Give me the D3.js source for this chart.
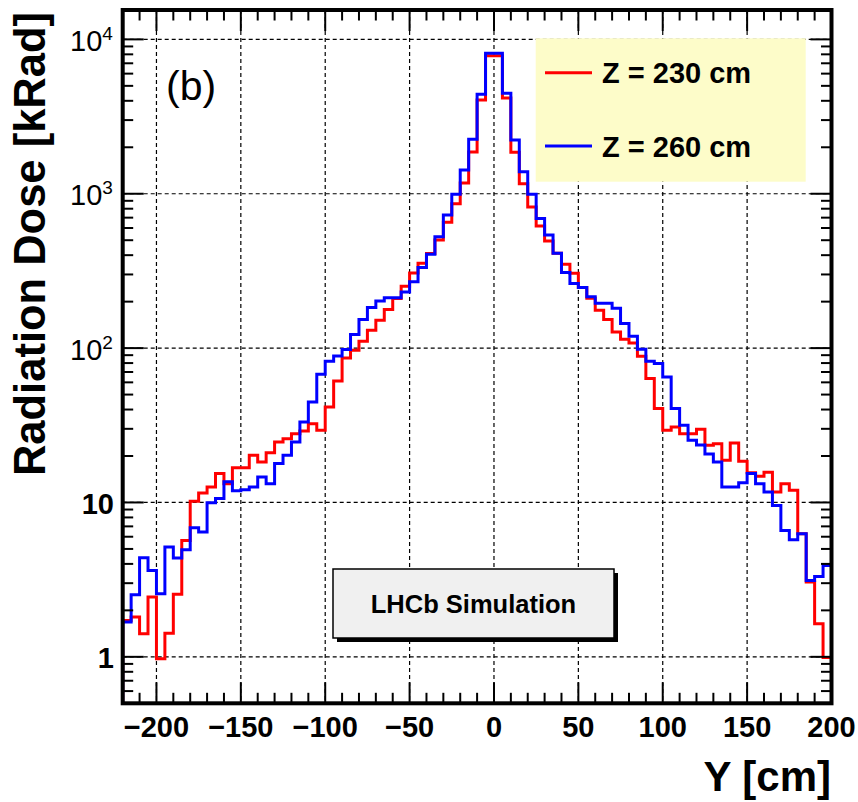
<!DOCTYPE html>
<html>
<head>
<meta charset="utf-8">
<script src="https://cdn.jsdelivr.net/npm/d3@7"></script>
<style>
  html, body { margin: 0; padding: 0; background: #fff; }
  svg { display: block; }
  text { font-family: "Liberation Sans", Arial, Helvetica, sans-serif; }
</style>
</head>
<body>
<svg id="chart" width="858" height="802"></svg>
<script>
// ---------------- data ----------------
const xDomain = [-220, 200];
const yDomain = [0.5, 15500];
const binWidth = 5;
const binEdges = d3.range(-220, 200 + binWidth, binWidth); // 85 edges -> 84 bins

const seriesNames = ["Z = 230 cm", "Z = 260 cm"];
const seriesColors = ["#ff0000", "#0000ff"];

// Z = 230 cm (red)
const doseZ230 = [
  1.72, 1.81, 1.41, 2.44, 0.97, 1.42, 2.54, 5.68, 10.2, 11.5,
  12.6, 15.4, 13.2, 16.8, 16.8, 20.2, 18.3, 21.0, 24.6, 25.9,
  27.9, 29.0, 32.4, 29.4, 41.6, 61.3, 86.4, 96.9, 110.8, 130.7,
  151.7, 178, 209.6, 252, 307, 354, 410, 501, 653, 860,
  1175, 1865, 4055, 7820, 7820, 4170, 1860, 1160, 822, 617,
  495, 411, 349, 305, 247, 210, 176, 153, 127, 114,
  108, 88.6, 63.5, 40.6, 29.4, 30.8, 27.9, 27.9, 29.8, 23.5,
  24.0, 18.8, 24.3, 18.5, 15.6, 14.8, 15.7, 11.7, 13.2, 12.0,
  6.28, 3.05, 1.64, 0.99
];
// Z = 260 cm (blue)
const doseZ260 = [
  1.68, 2.52, 4.39, 3.63, 2.56, 5.14, 4.36, 4.94, 6.87, 6.43,
  9.97, 10.6, 13.6, 11.9, 12.1, 12.6, 14.6, 13.2, 17.9, 20.2,
  24.6, 33.2, 44.8, 67.7, 82.2, 89.0, 97.9, 122.5, 153, 183,
  202, 212, 212, 231, 269, 333, 406, 526, 728, 991,
  1425, 2256, 4413, 8130, 8130, 4480, 2230, 1390, 991, 692,
  540, 411, 309, 262, 247, 215, 195, 195, 181, 144.5,
  119.4, 98.4, 82.2, 79.4, 65.0, 40.6, 31.6, 25.3, 23.6, 20.6,
  18.3, 12.6, 12.6, 13.4, 15.4, 13.2, 11.7, 9.57, 6.59, 5.74,
  6.28, 3.12, 3.32, 3.91
];

const xMajorTicks = [-200, -150, -100, -50, 0, 50, 100, 150, 200];
const xTickLabels = ["\u2212200", "\u2212150", "\u2212100", "\u221250", "0", "50", "100", "150", "200"];
const yMajorTicks = [1, 10, 100, 1000, 10000];
const yTickLabels = [["1", null], ["10", null], ["10", "2"], ["10", "3"], ["10", "4"]];

const xTitle = "Y [cm]";
const yTitle = "Radiation Dose [kRad]";
const panelLabel = "(b)";
const stampText = "LHCb Simulation";

// ---------------- layout ----------------
const svg = d3.select("#chart");
const P = { left: 122.7, right: 831.5, top: 10, bottom: 703.3 };

const x = d3.scaleLinear().domain(xDomain).range([P.left, P.right]);
const y = d3.scaleLog().domain(yDomain).range([P.bottom, P.top]);

svg.append("rect").attr("width", 858).attr("height", 802).attr("fill", "#fff");

svg.append("defs").append("clipPath").attr("id", "plotclip")
  .append("rect").attr("x", P.left).attr("y", P.top)
  .attr("width", P.right - P.left).attr("height", P.bottom - P.top);

// grid
const grid = svg.append("g").attr("stroke", "#000").attr("stroke-width", 1.2)
  .attr("stroke-dasharray", "4,3");
xMajorTicks.filter(v => v > xDomain[0] && v < xDomain[1]).forEach(v => {
  grid.append("line").attr("x1", x(v)).attr("x2", x(v)).attr("y1", P.top).attr("y2", P.bottom);
});
yMajorTicks.forEach(v => {
  grid.append("line").attr("x1", P.left).attr("x2", P.right).attr("y1", y(v)).attr("y2", y(v));
});

// histograms
function histPoints(vals) {
  const pts = [[x(binEdges[0]), y(yDomain[0])]];
  vals.forEach((v, i) => {
    pts.push([x(binEdges[i]), y(v)]);
    pts.push([x(binEdges[i + 1]), y(v)]);
  });
  pts.push([x(binEdges[vals.length]), y(yDomain[0])]);
  return pts;
}
const line = d3.line();
const hg = svg.append("g").attr("clip-path", "url(#plotclip)");
[doseZ230, doseZ260].forEach((vals, i) => {
  hg.append("path").attr("d", line(histPoints(vals)))
    .attr("fill", "none").attr("stroke", seriesColors[i])
    .attr("stroke-width", 3).attr("stroke-linejoin", "miter");
});

// legend
const lg = svg.append("g");
lg.append("rect").attr("x", 535.7).attr("y", 38.3).attr("width", 270).attr("height", 143.4)
  .attr("fill", "#fdfcc9");
const legendRows = [72.7, 146];
seriesNames.forEach((name, i) => {
  lg.append("line").attr("x1", 545).attr("x2", 592)
    .attr("y1", legendRows[i]).attr("y2", legendRows[i])
    .attr("stroke", seriesColors[i]).attr("stroke-width", 3);
  lg.append("text").attr("x", 602).attr("y", legendRows[i] + 10.6)
    .attr("font-size", 29).attr("font-weight", "bold").text(name);
});

// LHCb stamp
const st = svg.append("g");
st.append("rect").attr("x", 337).attr("y", 573).attr("width", 281).attr("height", 69).attr("fill", "#000");
st.append("rect").attr("x", 333).attr("y", 569).attr("width", 281).attr("height", 69)
  .attr("fill", "#f0f0f0").attr("stroke", "#000").attr("stroke-width", 1.5);
st.append("text").attr("x", 473.5).attr("y", 612.5).attr("text-anchor", "middle")
  .attr("font-size", 25.5).attr("font-weight", "bold").text(stampText);

// panel label
svg.append("text").attr("x", 166).attr("y", 99.5).attr("font-size", 41).text(panelLabel);

// ticks
const ticks = svg.append("g").attr("stroke", "#000").attr("stroke-width", 2);
const xMinor = d3.range(-220, 201, 10).filter(v => !xMajorTicks.includes(v));
const MAJ = 21, MIN = 10.5;
xMajorTicks.forEach(v => {
  ticks.append("line").attr("x1", x(v)).attr("x2", x(v)).attr("y1", P.bottom).attr("y2", P.bottom - MAJ);
  ticks.append("line").attr("x1", x(v)).attr("x2", x(v)).attr("y1", P.top).attr("y2", P.top + MAJ);
});
xMinor.forEach(v => {
  ticks.append("line").attr("x1", x(v)).attr("x2", x(v)).attr("y1", P.bottom).attr("y2", P.bottom - MIN);
  ticks.append("line").attr("x1", x(v)).attr("x2", x(v)).attr("y1", P.top).attr("y2", P.top + MIN);
});
const yMinor = [];
[0.1, 1, 10, 100, 1000, 10000].forEach(d => {
  for (let k = 2; k <= 9; k++) {
    const v = k * d;
    if (v >= yDomain[0] && v <= yDomain[1]) yMinor.push(v);
  }
});
yMajorTicks.forEach(v => {
  ticks.append("line").attr("x1", P.left).attr("x2", P.left + MAJ).attr("y1", y(v)).attr("y2", y(v));
  ticks.append("line").attr("x1", P.right).attr("x2", P.right - MAJ).attr("y1", y(v)).attr("y2", y(v));
});
yMinor.forEach(v => {
  ticks.append("line").attr("x1", P.left).attr("x2", P.left + MIN).attr("y1", y(v)).attr("y2", y(v));
  ticks.append("line").attr("x1", P.right).attr("x2", P.right - MIN).attr("y1", y(v)).attr("y2", y(v));
});

// frame
svg.append("rect").attr("x", P.left).attr("y", P.top)
  .attr("width", P.right - P.left).attr("height", P.bottom - P.top)
  .attr("fill", "none").attr("stroke", "#000").attr("stroke-width", 4);

// x tick labels
xMajorTicks.forEach((v, i) => {
  svg.append("text").attr("x", x(v)).attr("y", 737).attr("text-anchor", "middle")
    .attr("font-size", 29).attr("font-weight", "bold").text(xTickLabels[i]);
});

// y tick labels
yMajorTicks.forEach((v, i) => {
  const [base, exp] = yTickLabels[i];
  const t = svg.append("text").attr("y", y(v) + 11.5).attr("font-size", 29);
  if (exp === null) {
    t.attr("x", 114).attr("text-anchor", "end").attr("font-weight", "bold").text(base);
  } else {
    t.attr("x", 70).attr("text-anchor", "start");
    t.append("tspan").text(base);
    t.append("tspan").attr("font-size", 19).attr("dy", -11).text(exp);
  }
});

// axis titles
svg.append("text").attr("x", 831).attr("y", 791).attr("text-anchor", "end")
  .attr("font-size", 42).attr("font-weight", "bold").text(xTitle);
svg.append("text").attr("transform", "translate(45,12) rotate(-90)")
  .attr("text-anchor", "end").attr("font-size", 43.5).attr("font-weight", "bold").text(yTitle);
</script>
</body>
</html>
